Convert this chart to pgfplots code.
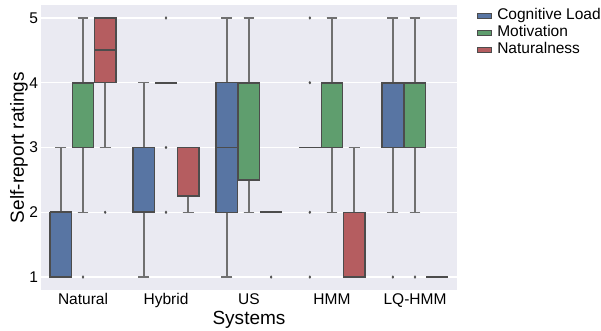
\documentclass[border=0pt]{standalone}
\usepackage{pgfplots}
\pgfplotsset{compat=1.18}
\usepgfplotslibrary{statistics}
\usepackage{fontspec}
\setmainfont{Liberation Sans}
\definecolor{bgcol}{HTML}{EAEAF2}
\definecolor{linegray}{HTML}{4C4C4C}
\definecolor{whiskgray}{HTML}{707070}
\definecolor{cblue}{HTML}{5875A3}
\definecolor{cgreen}{HTML}{5F9E6E}
\definecolor{cred}{HTML}{B55D60}
\pgfplotsset{
  bx/.style={forget plot, draw=linegray, line width=1.3pt,
    mark=diamond*, mark size=1.4pt,
    mark options={fill=linegray, draw=linegray, line width=0.3pt},
    boxplot/draw direction=y,
    boxplot/box extend=0.261, boxplot/whisker extend=0.13,
    boxplot/draw/median/.code={%
      \draw[draw=linegray, line width=1.7pt]
        (boxplot box cs:\pgfplotsboxplotvalue{median},0) --
        (boxplot box cs:\pgfplotsboxplotvalue{median},1);},
    boxplot/every whisker/.style={draw=whiskgray, line width=1.3pt},
    boxplot/every box/.style={draw=linegray, line width=1.3pt}},
}
\begin{document}
\begin{tikzpicture}
\useasboundingbox (-41.5pt,-41pt) rectangle (559.5pt,290pt);
\begin{axis}[
  at={(0,0)}, anchor=south west,
  scale only axis, width=415pt, height=285pt,
  xmin=-0.5, xmax=4.5, ymin=0.8, ymax=5.2,
  xtick={0,1,2,3,4}, xticklabels={Natural,Hybrid,US,HMM,LQ-HMM},
  ytick={1,2,3,4,5},
  axis background/.style={fill=bgcol},
  axis line style={draw=none},
  major tick length=0pt,
  ymajorgrids, grid style={white, line width=1.2pt},
  tick label style={font=\fontsize{15.5}{18}\selectfont},
  /pgf/number format/assume math mode=true,
  xlabel={Systems}, ylabel={Self-report ratings},
  every axis x label/.style={at={(axis description cs:0.5,-0.1228)}, anchor=base, font=\fontsize{19}{22}\selectfont},
  every axis y label/.style={at={(axis description cs:-0.0422,0.5)}, rotate=90, anchor=base, font=\fontsize{19}{22}\selectfont},
  legend style={at={(axis description cs:1.0494,0.9895)}, anchor=north west,
    draw=none, fill=none, inner sep=0pt, outer sep=0pt,
    font=\fontsize{15.5}{17}\selectfont, row sep=2pt, column sep=5.7pt,
    nodes={inner sep=0pt, text height=11.5pt, text depth=3.5pt}},
  legend cell align=left,
  legend image code/.code={\draw[#1, draw=linegray, line width=0.6pt] (0pt,-2.5pt) rectangle (14pt,2.5pt);},
]
\addlegendimage{fill=cblue}
\addlegendentry{Cognitive Load}
\addlegendimage{fill=cgreen}
\addlegendentry{Motivation}
\addlegendimage{fill=cred}
\addlegendentry{Naturalness}

% Natural
\addplot[bx, fill=cblue, boxplot prepared={draw position=-0.2667, lower whisker=1, lower quartile=1, median=2, upper quartile=2, upper whisker=3}] coordinates {};
\addplot[bx, fill=cgreen, boxplot prepared={draw position=0, lower whisker=2, lower quartile=3, median=4, upper quartile=4, upper whisker=5}] coordinates {(0,1)};
\addplot[bx, fill=cred, boxplot prepared={draw position=0.2667, lower whisker=3, lower quartile=4, median=4.5, upper quartile=5, upper whisker=5}] coordinates {(0,2)};
% Hybrid
\addplot[bx, fill=cblue, boxplot prepared={draw position=0.7333, lower whisker=1, lower quartile=2, median=2, upper quartile=3, upper whisker=4}] coordinates {};
\addplot[bx, fill=cgreen, boxplot prepared={draw position=1, lower whisker=4, lower quartile=4, median=4, upper quartile=4, upper whisker=4}] coordinates {(0,5) (0,3) (0,2)};
\addplot[bx, fill=cred, boxplot prepared={draw position=1.2667, lower whisker=2, lower quartile=2.25, median=3, upper quartile=3, upper whisker=3}] coordinates {};
% US
\addplot[bx, fill=cblue, boxplot prepared={draw position=1.7333, lower whisker=1, lower quartile=2, median=3, upper quartile=4, upper whisker=5}] coordinates {};
\addplot[bx, fill=cgreen, boxplot prepared={draw position=2, lower whisker=2, lower quartile=2.5, median=4, upper quartile=4, upper whisker=5}] coordinates {};
\addplot[bx, fill=cred, boxplot prepared={draw position=2.2667, lower whisker=2, lower quartile=2, median=2, upper quartile=2, upper whisker=2}] coordinates {(0,1)};
% HMM
\addplot[bx, fill=cblue, boxplot prepared={draw position=2.7333, lower whisker=3, lower quartile=3, median=3, upper quartile=3, upper whisker=3}] coordinates {(0,5) (0,4) (0,2) (0,1)};
\addplot[bx, fill=cgreen, boxplot prepared={draw position=3, lower whisker=2, lower quartile=3, median=4, upper quartile=4, upper whisker=5}] coordinates {};
\addplot[bx, fill=cred, boxplot prepared={draw position=3.2667, lower whisker=1, lower quartile=1, median=1, upper quartile=2, upper whisker=3}] coordinates {};
% LQ-HMM
\addplot[bx, fill=cblue, boxplot prepared={draw position=3.7333, lower whisker=2, lower quartile=3, median=4, upper quartile=4, upper whisker=5}] coordinates {(0,1)};
\addplot[bx, fill=cgreen, boxplot prepared={draw position=4, lower whisker=2, lower quartile=3, median=4, upper quartile=4, upper whisker=5}] coordinates {(0,1)};
\addplot[bx, fill=cred, boxplot prepared={draw position=4.2667, lower whisker=1, lower quartile=1, median=1, upper quartile=1, upper whisker=1}] coordinates {};
\end{axis}
\end{tikzpicture}
\end{document}
